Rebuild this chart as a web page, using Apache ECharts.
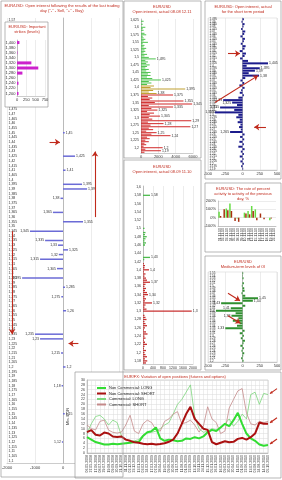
<!DOCTYPE html>
<html><head><meta charset="utf-8">
<script src="https://cdn.jsdelivr.net/npm/echarts@6/dist/echarts.min.js"></script>
<style>html,body{margin:0;padding:0;background:#fff}#c{width:282px;height:480px}</style>
</head><body><div id="c"></div>
<script>
// ---------- strike price list (tick labels) ----------
const STRIKES = ("1,65 1,645 1,64 1,635 1,63 1,625 1,62 1,615 1,61 1,605 " +
"1,6 1,595 1,59 1,585 1,58 1,575 1,57 1,565 1,56 1,555 " +
"1,55 1,545 1,54 1,535 1,53 1,525 1,52 1,515 1,51 1,505 " +
"1,5 1,495 1,49 1,485 1,48 1,475 1,47 1,465 1,46 1,455 " +
"1,45 1,445 1,44 1,435 1,43 1,425 1,42 1,415 1,41 1,405 " +
"1,4 1,395 1,39 1,385 1,38 1,375 1,37 1,365 1,36 1,355 " +
"1,35 1,345 1,34 1,335 1,33 1,325 1,32 1,315 1,31 1,305 " +
"1,3 1,295 1,29 1,285 1,28 1,275 1,27 1,265 1,26 1,255 " +
"1,25 1,245 1,24 1,235 1,23 1,225 1,22 1,215 1,21 1,205 " +
"1,2 1,195 1,19 1,185 1,18 1,175 1,17 1,165 1,16 1,155 " +
"1,15 1,145 1,14 1,135 1,13 1,125 1,12 1,115 1,11 1,105 " +
"1,1 1,095 1,09 1,085 1,08 1,075 1,07 1,065 1,06 1,055 1,05").split(' ');
function strikeRange(a, b) { return STRIKES.slice(STRIKES.indexOf(a), STRIKES.indexOf(b) + 1); }

// ---------- left panel: OI after last trading day ----------
const leftStrikes = strikeRange('1,57', '1,1');
const leftOI = [
  ['1,45', 60], ['1,425', 430], ['1,41', 90], ['1,395', 680], ['1,39', 860],
  ['1,38', -90], ['1,365', -360], ['1,355', 715], ['1,345', -1180], ['1,335', -640],
  ['1,33', -180], ['1,325', 180], ['1,32', -150], ['1,315', -820], ['1,305', -215],
  ['1,295', -1460], ['1,285', 70], ['1,275', -60], ['1,26', 110], ['1,235', -1000],
  ['1,23', -820], ['1,215', -70], ['1,2', 90], ['1,18', -50], ['1,15', 60], ['1,12', -40]
];
// arrows: [fromStrike, fromValue, toStrike, toValue]
const leftArrows = [
  ['1,36', 1143, '1,43', 1143],
  ['1,345', -1820, '1,235', -1820],
  ['1,44', -480, '1,44', -110],
  ['1,225', 550, '1,225', 200]
];

// ---------- inset: important strikes ----------
const importantStrikes = ['1,400', '1,380', '1,360', '1,340', '1,320', '1,300', '1,280', '1,260', '1,240', '1,220', '1,200'];
const importantOI = [65, 0, 12, 0, 385, 570, 145, 0, 40, 0, 40];

// ---------- middle top: OI actual 08.08 12.11 ----------
const midTopStrikes = strikeRange('1,625', '1,185');
const midTopOI = [
  0, 300, 0, 200, 0, 500, 200, 300, 0, 400,
  600, 200, 300, 500, 300, 800, 200, 400, 300, 600,
  400, 500, 300, 700, 400, 900, 1700, 500, 800, 600,
  1000, 700, 500, 900, 600, 1100, 800, 1100, 700, 1300,
  2300, 900, 1200, 700, 1500, 1100, 5100, 1400, 900, 1800,
  3700, 800, 1300, 1000, 4900, 1600, 5900, 900, 3700, 1200,
  1900, 700, 1500, 1000, 2200, 900, 1300, 5800, 800, 2600,
  1100, 5700, 900, 1400, 600, 1800, 1200, 3400, 700, 1000,
  500, 900, 400, 600, 300, 2500, 500, 2300, 400
];

// ---------- middle bottom: OI actual 08.09 11.10 ----------
const midBotStrikes = strikeRange('1,6', '1,175');
const midBotOI = [
  0, 0, 0, 0, 280, 0, 0, 0, 0, 0,
  0, 0, 0, 0, 0, 0, 0, 0, 0, 0,
  60, 0, 100, 80, 150, 100, 60, 120, 80, 0,
  0, 0, 0, 0, 280, 50, 0, 40, 80, 60,
  240, 40, 100, 60, 120, 160, 280, 100, 60, 120,
  80, 160, 200, 60, 120, 80, 360, 100, 60, 140,
  1950, 0, 60, 100, 140, 60, 100, 160, 80, 40,
  120, 180, 60, 100, 40, 80, 160, 60, 40, 120,
  60, 100, 160, 80, 170, 120
];

// ---------- right top: OI for the short term period ----------
const shortStrikes = strikeRange('1,495', '1,19');
const shortOI = [
  20, -15, 30, 15, -20, 40, 25, -30, 35, 20,
  -25, 45, 30, -40, 50, 30, -35, 80, 370, 60,
  250, 180, 90, 240, 40, -30, 25, -45, 30, -20,
  -40, 20, -60, -280, -150, -80, -325, -120, -400, -60,
  -90, -40, -70, -30, -50, -25, -180, 30, -35, 25,
  -45, 20, -60, 30, -25, 20, -40, 15, -30, 20,
  -20, 10
];
const shortArrows = [
  ['1,325', -400, '1,38', 225],
  ['1,425', -210, '1,425', -36],
  ['1,275', 340, '1,275', 170]
];

// ---------- right middle: rate of activity, % ----------
const rateDates = ['01.11.10', '02.11.10', '03.11.10', '04.11.10', '05.11.10', '08.11.10', '09.11.10', '10.11.10',
  '11.11.10', '12.11.10', '15.11.10', '16.11.10', '17.11.10', '18.11.10', '19.11.10', '22.11.10'];
const rateCall = [70, 0, 110, 170, 0, -10, 0, 60, 80, 140, 100, 0, 0, 0, -30, 0];
const ratePut = [20, 100, 90, 80, -40, -50, 0, 50, 40, 80, -30, 50, -20, 0, -10, 0];

// ---------- right lower: medium-term levels ----------
const medStrikes = ['1,55', '1,54', '1,53', '1,52', '1,51', '1,5', '1,49', '1,48', '1,47', '1,46', '1,45', '1,44',
  '1,43', '1,42', '1,41', '1,4', '1,39', '1,38', '1,37', '1,36', '1,35', '1,34', '1,33', '1,32', '1,31', '1,3',
  '1,29', '1,28', '1,27', '1,26', '1,25', '1,24', '1,23', '1,22', '1,21', '1,2'];
const medOI = [
  10, -5, 15, 0, 20, -10, 25, 30, -15, 40,
  225, 150, -310, 40, -170, -385, -100, -160, -60, -140,
  -40, -80, -250, 30, -40, 20, -25, 35, 15, -30,
  20, -15, 25, 10, -20, 15
];
const medArrows = [
  ['1,47', -210, '1,44', -36],
  ['1,38', -210, '1,35', -30]
];

// ---------- bottom: COT positions ----------
const cotDates = ['06.05.2008', '27.05.2008', '17.06.2008', '08.07.2008', '29.07.2008', '19.08.2008', '09.09.2008',
  '30.09.2008', '21.10.2008', '11.11.2008', '02.12.2008', '23.12.2008', '13.01.2009', '03.02.2009', '24.02.2009',
  '17.03.2009', '07.04.2009', '28.04.2009', '19.05.2009', '09.06.2009', '30.06.2009', '21.07.2009', '11.08.2009',
  '01.09.2009', '22.09.2009', '13.10.2009', '03.11.2009', '24.11.2009', '15.12.2009', '05.01.2010', '26.01.2010',
  '16.02.2010', '09.03.2010', '30.03.2010', '20.04.2010', '11.05.2010', '01.06.2010', '22.06.2010', '13.07.2010',
  '03.08.2010', '24.08.2010', '14.09.2010', '05.10.2010'];
const ncLong = [6.5, 5.5, 4.5, 4, 3.5, 3.5, 3.8, 3.6, 3.8, 4, 4.2, 4.5, 4.5, 7, 8.5, 9, 10.5, 6, 5, 5.5, 5.2, 4.8, 5, 6,
  5.8, 6.5, 6, 6.8, 8.5, 9.5, 9, 10.5, 12, 11, 13.5, 16.5, 12, 8, 6, 5, 3.5, 3, 3.3];
const ncShort = [8.6, 9.4, 7.5, 7.2, 8.4, 8, 6.8, 6.6, 6.8, 5.5, 5, 4.4, 4.2, 3.8, 3.6, 3.8, 3.5, 3.7, 4, 4.6, 5.5, 8,
  12, 16, 19, 14, 12, 10, 9.5, 4.5, 3.6, 4.2, 4.8, 4.4, 4.6, 5.8, 6.2, 5.5, 6.5, 8, 12.5, 12, 12];
const cLong = [8, 12, 15, 15.5, 14, 11.5, 13.5, 12.5, 7, 5.5, 4.8, 5, 5.5, 7.5, 8.2, 8.5, 9, 10, 11.5, 12.5, 16, 20,
  22, 25, 28, 15, 10, 8.5, 9, 10, 9.5, 10.5, 12, 14, 11, 13, 16, 14, 24, 25, 20, 24.5, 24];
const cShort = [11.5, 10, 9.5, 13, 13.5, 9.4, 8.5, 8.2, 8.6, 11.5, 15.5, 9, 8, 12, 13.5, 12.5, 9.5, 9, 13, 14, 16,
  17, 12, 12.5, 13.5, 11.5, 8.6, 11, 19, 14, 12.5, 8, 9, 18.5, 22, 25.5, 26.5, 16.5, 12, 11.5, 13, 12.5, 13];
const cotNames = ['Non Commercial: LONG', 'Non Commercial: SHORT', 'Commercial: LONG', 'Commercial: SHORT'];

// ================= build =================
const FONT = 'Liberation Sans';
const RED = '#c02a1c';
const plain = v => String(v);
const TXT = { fontSize: 4, color: '#333', fontFamily: FONT };

function barData(vals, thr, colorFn) {
  return vals.map((v, i) => {
    if (v == null) return null;
    const o = { value: v, label: { show: Math.abs(v) >= thr && v !== 0, position: v < 0 ? 'left' : 'right' } };
    if (colorFn) o.itemStyle = { color: colorFn(i) };
    return o;
  });
}
function arrowData(list, catArr) {
  return list.map(a => [{ coord: [a[1], catArr.indexOf(a[0])] }, { coord: [a[3], catArr.indexOf(a[2])] }]);
}
function arrowMark(list, catArr) {
  return {
    silent: true, symbol: ['none', 'arrow'], symbolSize: 5, animation: false,
    label: { show: false }, lineStyle: { color: RED, width: 1.1, type: 'solid' },
    emphasis: { disabled: true }, data: arrowData(list, catArr)
  };
}
function vAxis(gi, min, max, interval, extra) {
  return Object.assign({
    type: 'value', gridIndex: gi, min, max, interval,
    axisLabel: Object.assign({}, TXT, { margin: 2, formatter: plain }),
    axisLine: { show: true, onZero: false, lineStyle: { color: '#999', width: 0.5 } },
    axisTick: { show: false },
    splitLine: { show: true, lineStyle: { color: '#d8d8d8', width: 0.5 } }
  }, extra || {});
}
function cAxis(gi, data, label, extra) {
  return Object.assign({
    type: 'category', gridIndex: gi, data, inverse: true,
    axisTick: { show: false },
    axisLine: { show: true, onZero: true, lineStyle: { color: '#888', width: 0.5 } },
    axisLabel: Object.assign({}, TXT, { fontSize: 3.5, margin: 2, interval: 0 }, label || {})
  }, extra || {});
}
const barLabel = { show: false, formatter: p => p.name, fontSize: 3.5, color: '#333', fontFamily: FONT, distance: 1 };

const leftMap = {}; leftOI.forEach(p => { leftMap[p[0]] = p[1]; });
const leftVals = leftStrikes.map(s => (s in leftMap && leftMap[s] !== 0) ? leftMap[s] : null);

const grids = [
  { left: 7, top: 18, width: 112, height: 445 },     // 0 left main
  { left: 17, top: 40, width: 28, height: 56 },      // 1 inset
  { left: 141, top: 19, width: 52, height: 134 },    // 2 mid top
  { left: 143, top: 186, width: 50, height: 178 },   // 3 mid bottom
  { left: 208, top: 18, width: 69, height: 152 },    // 4 right top
  { left: 218, top: 201, width: 58, height: 25 },    // 5 rate
  { left: 208, top: 272, width: 69, height: 90 },    // 6 right low
  { left: 87, top: 380, width: 181, height: 73 }     // 7 COT
].map(g => Object.assign({ outerBoundsMode: 'none', containLabel: false }, g));
grids[4].show = true; grids[4].borderColor = '#ccc'; grids[4].borderWidth = 0.5;
grids[6].show = true; grids[6].borderColor = '#ccc'; grids[6].borderWidth = 0.5;
grids[7].show = true; grids[7].borderColor = '#aaa'; grids[7].borderWidth = 0.5; grids[7].z = 10;

const xAxes = [
  vAxis(0, -2000, 2000, 1000, { axisLabel: Object.assign({}, TXT, { margin: 3, formatter: plain }) }),
  vAxis(1, 0, 750, 250, { z: 10 }),
  vAxis(2, 0, 6000, 2000),
  vAxis(3, 0, 2000, 400, { axisLabel: Object.assign({}, TXT, { fontSize: 3.5, margin: 2, formatter: plain }) }),
  vAxis(4, -500, 500, 250),
  { type: 'category', gridIndex: 5, data: rateDates, axisTick: { show: false },
    axisLine: { show: true, onZero: false, lineStyle: { color: '#999', width: 0.5 } },
    axisLabel: Object.assign({}, TXT, { fontSize: 3.5, rotate: 90, interval: 0, margin: 2 }) },
  vAxis(6, -500, 500, 250),
  { type: 'category', gridIndex: 7, data: cotDates, boundaryGap: false, z: 10, axisTick: { show: false },
    axisLine: { show: true, onZero: false, lineStyle: { color: '#999', width: 0.5 } },
    axisLabel: Object.assign({}, TXT, { fontSize: 3.5, rotate: 90, interval: 0, margin: 2 }),
    splitLine: { show: true, interval: 0, lineStyle: { color: '#dcdcdc', width: 0.5 } } }
];
const yAxes = [
  cAxis(0, leftStrikes, { inside: true, margin: 1.5 }),
  cAxis(1, importantStrikes, { fontSize: 4, margin: 1.5 }, { z: 10 }),
  cAxis(2, midTopStrikes, { interval: 4 }),
  cAxis(3, midBotStrikes, { interval: 3 }),
  cAxis(4, shortStrikes, { inside: true, margin: 1.5, fontSize: 3 }),
  vAxis(5, -100, 200, 100, { axisLabel: Object.assign({}, TXT, { margin: 2, formatter: '{value}%' }) }),
  cAxis(6, medStrikes, { inside: true, margin: 1.5, fontSize: 3 }),
  vAxis(7, 0, 30, 2, { z: 10, name: 'Mln. EUR', nameLocation: 'middle', nameGap: 8,
    nameTextStyle: { fontSize: 4, color: '#333', fontFamily: FONT },
    axisLabel: Object.assign({}, TXT, { fontSize: 3.5, margin: 2, formatter: plain }) })
];

const series = [
  { type: 'bar', name: 'OI last day', xAxisIndex: 0, yAxisIndex: 0, barWidth: 1.5,
    itemStyle: { color: '#6b6bd6' }, label: barLabel, data: barData(leftVals, 1),
    markLine: arrowMark(leftArrows, leftStrikes) },
  { type: 'bar', name: 'Important strikes', xAxisIndex: 1, yAxisIndex: 1, barWidth: 3, z: 10,
    itemStyle: { color: '#cc22cc' }, data: importantOI },
  { type: 'bar', name: 'OI 08.08 12.11', xAxisIndex: 2, yAxisIndex: 2, barWidth: 1, label: barLabel,
    data: barData(midTopOI, 1700, i => i < 44 ? '#4cc34c' : (i < 50 ? '#c0a030' : '#d02828')) },
  { type: 'bar', name: 'OI 08.09 11.10', xAxisIndex: 3, yAxisIndex: 3, barWidth: 1.3, label: barLabel,
    data: barData(midBotOI, 200, i => i <= 35 ? '#4cbb4c' : '#c83030') },
  { type: 'bar', name: 'OI short term', xAxisIndex: 4, yAxisIndex: 4, barWidth: 2, label: barLabel,
    itemStyle: { color: '#1c1c8c' }, data: barData(shortOI, 150),
    markLine: arrowMark(shortArrows, shortStrikes) },
  { type: 'bar', name: 'Call', xAxisIndex: 5, yAxisIndex: 5, barWidth: 1.5, barGap: '0%',
    itemStyle: { color: '#66dd44' }, data: rateCall },
  { type: 'bar', name: 'Put', xAxisIndex: 5, yAxisIndex: 5, barWidth: 1.5, barGap: '0%',
    itemStyle: { color: '#a83010' }, data: ratePut },
  { type: 'bar', name: 'Medium-term', xAxisIndex: 6, yAxisIndex: 6, barWidth: 2, label: barLabel,
    itemStyle: { color: '#2f8f2f' }, data: barData(medOI, 150),
    markLine: arrowMark(medArrows, medStrikes) },
  { type: 'line', name: cotNames[0], xAxisIndex: 7, yAxisIndex: 7, z: 13, showSymbol: false,
    lineStyle: { width: 2, color: '#33dd33' }, itemStyle: { color: '#33dd33' }, data: ncLong },
  { type: 'line', name: cotNames[1], xAxisIndex: 7, yAxisIndex: 7, z: 14, showSymbol: false,
    lineStyle: { width: 2, color: '#aa1111' }, itemStyle: { color: '#aa1111' }, data: ncShort },
  { type: 'line', name: cotNames[2], xAxisIndex: 7, yAxisIndex: 7, z: 11, showSymbol: false,
    lineStyle: { width: 0.8, color: '#7cd67c' }, itemStyle: { color: '#7cd67c' }, data: cLong },
  { type: 'line', name: cotNames[3], xAxisIndex: 7, yAxisIndex: 7, z: 12, showSymbol: false,
    lineStyle: { width: 0.8, color: '#c48a8a' }, itemStyle: { color: '#c48a8a' }, data: cShort }
];

function box(x, y, w, h, fill, z) {
  return { type: 'rect', shape: { x, y, width: w, height: h }, z: z,
    style: { fill: fill || 'none', stroke: '#999', lineWidth: 0.7 }, silent: true };
}
function txt(x, y, text, size, color) {
  return { type: 'text', x, y, z: 30, silent: true,
    style: { text, fill: color || RED, font: size + 'px ' + FONT, fontSize: size, fontFamily: FONT,
      textAlign: 'center', align: 'center', textVerticalAlign: 'top', verticalAlign: 'top', lineHeight: size + 1 } };
}
const staticGraphics = [
  box(1, 1, 122, 476, 'none', 40),
  box(5, 22, 43, 85, '#fff', 5),
  box(124, 1, 77, 157, 'none', 40),
  box(124, 160, 77, 210, 'none', 40),
  box(205, 1, 76, 178, 'none', 40),
  box(205, 183, 76, 69, 'none', 40),
  box(205, 256, 76, 114, 'none', 40),
  box(75, 372, 206, 106, '#fff', 5),
  txt(62, 3, 'EUR/USD: Open interest following the results of the last trading\nday ("-" - Sell, "+" - Buy)', 4.1),
  txt(27, 24, 'EUR/USD: Important\nstrikes (levels)', 4),
  txt(162, 4, 'EUR/USD\nOpen interest, actual 08.08 12.11', 4),
  txt(162, 164, 'EUR/USD\nOpen interest, actual 08.09 11.10', 4),
  txt(243, 4, 'EUR/USD: Open interest, actual\nfor the short term period', 4),
  txt(243, 186, 'EUR/USD: The rate of percent\nactivity to activity of the previous\nday, %', 4),
  txt(243, 259, 'EUR/USD\nMedium-term levels of OI', 4),
  txt(175, 374, 'EUR/FX: Variation of open positions (futures and options)', 4)
];

const chart = echarts.init(document.getElementById('c'), null, { renderer: 'canvas' });
chart.setOption({
  animation: false,
  backgroundColor: '#fff',
  textStyle: { fontFamily: FONT },
  grid: grids, xAxis: xAxes, yAxis: yAxes, series,
  legend: { data: cotNames, orient: 'vertical', left: 92, top: 381, z: 20, itemWidth: 9, itemHeight: 2,
    itemGap: 1.5, icon: 'rect', textStyle: { fontSize: 4, color: '#222', fontFamily: FONT, padding: [0, 0, 0, -2] } },
  graphic: { elements: staticGraphics }
});

// arrows pointing at the line ends of the COT chart (positions taken from the chart's own scale)
const last = cotDates.length - 1;
const endTargets = [[10, cLong[last]], [9, ncShort[last]], [8, ncLong[last]]];
const extra = [];
endTargets.forEach((t) => {
  const p = chart.convertToPixel({ seriesIndex: t[0] }, [last, t[1]]);
  if (!p) return;
  const x2 = p[0] + 2, y2 = p[1] - 1, x1 = p[0] + 9, y1 = p[1] - 6;
  extra.push({ type: 'line', z: 35, silent: true, shape: { x1, y1, x2, y2 }, style: { stroke: RED, lineWidth: 1.1 } });
  const ang = Math.atan2(y2 - y1, x2 - x1), L = 3;
  extra.push({ type: 'polygon', z: 35, silent: true, shape: { points: [
    [x2, y2],
    [x2 - L * Math.cos(ang - 0.5), y2 - L * Math.sin(ang - 0.5)],
    [x2 - L * Math.cos(ang + 0.5), y2 - L * Math.sin(ang + 0.5)]] }, style: { fill: RED } });
});
chart.setOption({ graphic: { elements: staticGraphics.concat(extra) } });
</script></body></html>
